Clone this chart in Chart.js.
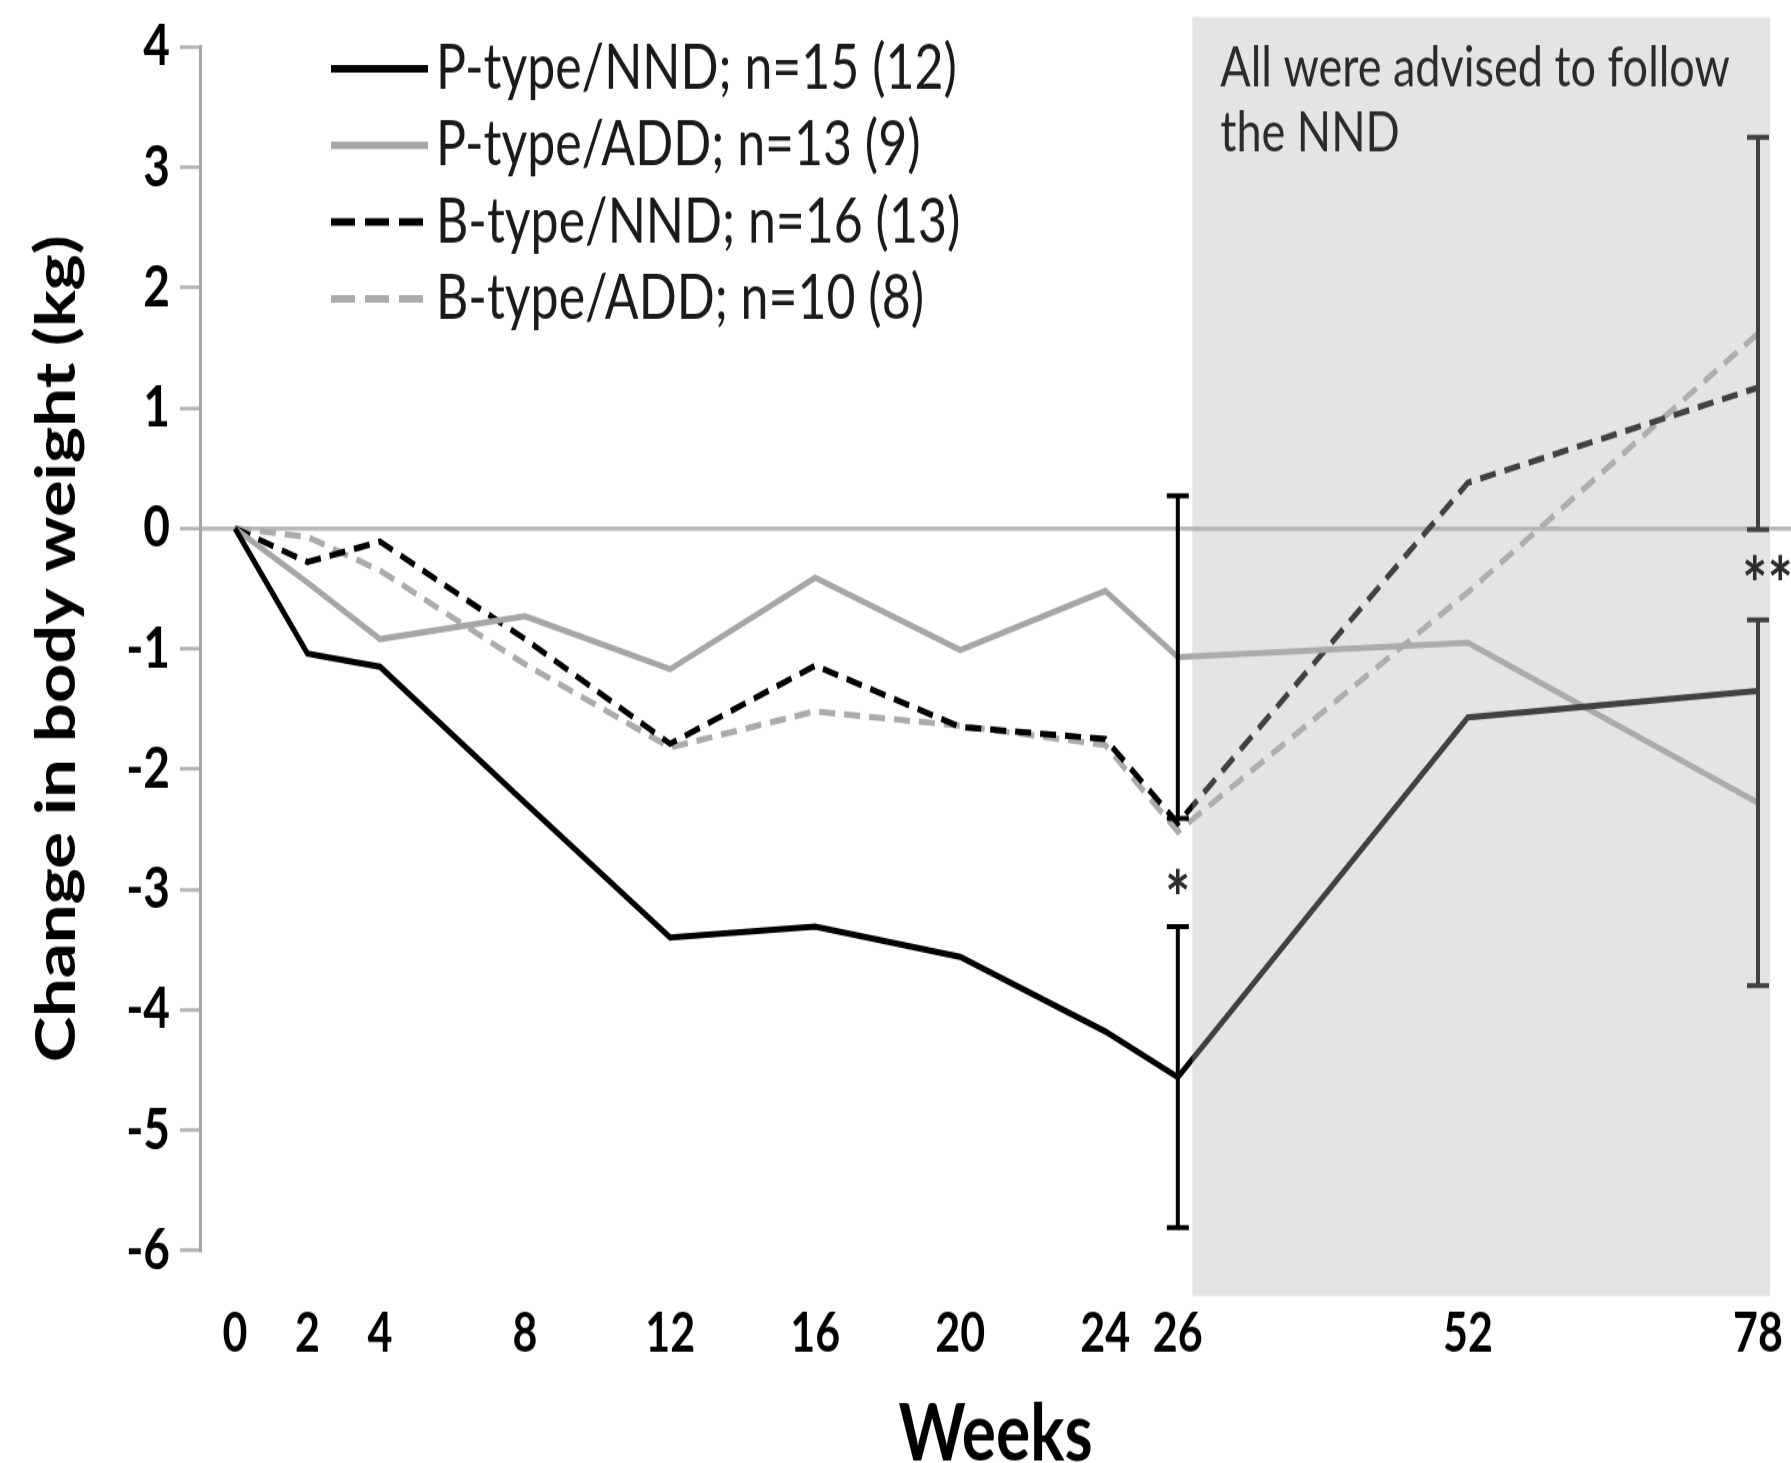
<!DOCTYPE html>
<html>
<head>
<meta charset="utf-8">
<title>Change in body weight</title>
<script src="https://cdn.jsdelivr.net/npm/chart.js@4.4.1/dist/chart.umd.min.js"></script>
<style>
  html, body { margin: 0; padding: 0; background: #fff; }
  #chart { display: block; }
</style>
</head>
<body>
<!-- drawn at 1791x1170, shown stretched to the page height -->
<canvas id="chart" width="1791" height="1170" style="width:1791px;height:1463px"></canvas>
<script>
// Weeks of measurement
const weeks = [0, 2, 4, 8, 12, 16, 20, 24, 26, 52, 78];

// Mean change in body weight (kg)
const pTypeNND = [0, -1.04, -1.15, -2.28, -3.40, -3.31, -3.56, -4.18, -4.56, -1.57, -1.35];
const pTypeADD = [0, -0.45, -0.92, -0.73, -1.17, -0.41, -1.01, -0.52, -1.07, -0.95, -2.28];
const bTypeNND = [0, -0.28, -0.11, -0.92, -1.79, -1.14, -1.65, -1.75, -2.45, 0.38, 1.17];
const bTypeADD = [0, -0.07, -0.35, -1.13, -1.82, -1.52, -1.64, -1.80, -2.52, -0.53, 1.62];

// Error bars (kg), only at week 26 and 78
const pTypeNNDErr = [null, null, null, null, null, null, null, null, 1.25, null, null];
const pTypeADDErr = [null, null, null, null, null, null, null, null, 1.34, null, 1.52];
const bTypeNNDErr = [null, null, null, null, null, null, null, null, null, null, null];
const bTypeADDErr = [null, null, null, null, null, null, null, null, null, null, 1.63];

// Significance marks
const stars = [
  { week: 26, kg: -2.95, text: '*' },
  { week: 78, kg: -0.34, text: '**' },
];

// Follow-up period (weeks / kg)
const followUp = { from: 27.3, to: 79.1, top: 4.25, bottom: -6.38 };
const followUpNote = ['All were advised to follow', 'the NND'];

const FONT = "Lato, 'Open Sans', sans-serif";

// intervention weeks are spaced 1:1, follow-up weeks are squeezed
const weekPos = w => w <= 26 ? w : 26 + (w - 26) * 8 / 26;

const series = [
  { label: 'P-type/NND; n=15 (12)', data: pTypeNND, err: pTypeNNDErr, color: '#000000', dash: [] },
  { label: 'P-type/ADD; n=13 (9)',  data: pTypeADD, err: pTypeADDErr, color: '#a6a6a6', dash: [] },
  { label: 'B-type/NND; n=16 (13)', data: bTypeNND, err: bTypeNNDErr, color: '#000000', dash: [16, 9] },
  { label: 'B-type/ADD; n=10 (8)',  data: bTypeADD, err: bTypeADDErr, color: '#ababab', dash: [16, 9] },
];

// error bars, stars and the shaded follow-up block
const extras = {
  id: 'extras',
  afterDatasetsDraw(chart) {
    const { ctx, scales: { x, y } } = chart;
    ctx.save();

    ctx.strokeStyle = '#000';
    ctx.lineWidth = 4;
    series.forEach(s => s.err.forEach((e, i) => {
      if (e == null) return;
      const px = x.getPixelForValue(weekPos(weeks[i]));
      const hi = y.getPixelForValue(s.data[i] + e);
      const lo = y.getPixelForValue(s.data[i] - e);
      ctx.beginPath();
      ctx.moveTo(px, hi); ctx.lineTo(px, lo);
      ctx.moveTo(px - 11, hi); ctx.lineTo(px + 11, hi);
      ctx.moveTo(px - 11, lo); ctx.lineTo(px + 11, lo);
      ctx.stroke();
    }));

    const left = x.getPixelForValue(weekPos(followUp.from));
    const right = x.getPixelForValue(weekPos(followUp.to));
    const top = y.getPixelForValue(followUp.top);
    const bottom = y.getPixelForValue(followUp.bottom);

    ctx.fillStyle = 'rgba(179,179,179,0.36)';
    ctx.fillRect(left, top, right - left, bottom - top);

    ctx.fillStyle = '#2b2b2b';
    ctx.font = `bold 60px ${FONT}`;
    ctx.textBaseline = 'alphabetic';
    stars.forEach(st => {
      const px = x.getPixelForValue(weekPos(st.week));
      ctx.textAlign = st.text.length > 1 ? 'left' : 'center';
      ctx.fillText(st.text, st.text.length > 1 ? px - 16 : px, y.getPixelForValue(st.kg) + 34);
    });

    ctx.font = `45px ${FONT}`;
    ctx.textAlign = 'left';
    ctx.textBaseline = 'middle';
    followUpNote.forEach((line, i) => ctx.fillText(line, left + 28, top + 41 + i * 52));
    ctx.restore();
  }
};

// legend sits inside the plot, top left
const legendBox = {
  id: 'legendBox',
  afterDraw(chart) {
    const { ctx, chartArea: { left } } = chart;
    ctx.save();
    ctx.font = `50px ${FONT}`;
    ctx.textBaseline = 'middle';
    ctx.textAlign = 'left';
    ctx.fillStyle = '#1a1a1a';
    chart.data.datasets.forEach((ds, i) => {
      const ly = 55 + i * 61.3;
      ctx.strokeStyle = ds.borderColor;
      ctx.lineWidth = 6;
      ctx.setLineDash(ds.borderDash.length ? [24, 10] : []);
      ctx.beginPath();
      ctx.moveTo(left + 131, ly);
      ctx.lineTo(left + 228, ly);
      ctx.stroke();
      ctx.fillText(ds.label, left + 236, ly);
    });
    ctx.restore();
  }
};

new Chart(document.getElementById('chart'), {
  type: 'line',
  data: {
    datasets: series.map(s => ({
      label: s.label,
      data: weeks.map((w, i) => ({ x: weekPos(w), y: s.data[i] })),
      borderColor: s.color,
      borderWidth: 5,
      borderDash: s.dash,
      borderCapStyle: 'butt',
      pointRadius: 0,
      tension: 0,
      fill: false,
    }))
  },
  options: {
    responsive: false,
    animation: false,
    devicePixelRatio: 1,
    layout: { padding: { top: 36, right: 0, bottom: 0, left: 0 } },
    plugins: { legend: { display: false }, tooltip: { enabled: false } },
    scales: {
      x: {
        type: 'linear',
        min: -0.965,
        max: 42.91,
        afterBuildTicks: axis => { axis.ticks = weeks.map(w => ({ value: weekPos(w) })); },
        afterFit: axis => {
          axis.height = 170;
          axis.paddingLeft = 0;
          axis.paddingRight = 0;
        },
        grid: { display: false },
        border: { display: false },
        ticks: {
          autoSkip: false, maxRotation: 0, padding: 33, color: '#000',
          font: { family: FONT, size: 43, weight: 'bold' },
          callback: (v, i) => weeks[i],
        },
        title: {
          display: true, text: 'Weeks', color: '#000', padding: { top: 0, bottom: -16 },
          font: { family: FONT, size: 64, weight: 'bold' },
        },
      },
      y: {
        min: -6,
        max: 4,
        afterFit: axis => { axis.width = 200; },
        ticks: {
          stepSize: 1, padding: 10, color: '#000',
          font: { family: FONT, size: 46, weight: 'bold' },
        },
        grid: {
          color: c => c.tick && c.tick.value === 0 ? '#b8b8b8' : 'rgba(0,0,0,0)',
          lineWidth: 3.5,
          tickLength: 20,
          tickColor: '#b5b5b5',
          tickWidth: 3,
        },
        border: { display: true, color: '#a6a6a6', width: 3 },
        title: {
          display: true, text: 'Change in body weight (kg)', color: '#000',
          padding: { top: 24, bottom: 0 },
          font: { family: FONT, size: 55, weight: 'bold' },
        },
      },
    },
  },
  plugins: [extras, legendBox],
});
</script>
</body>
</html>
